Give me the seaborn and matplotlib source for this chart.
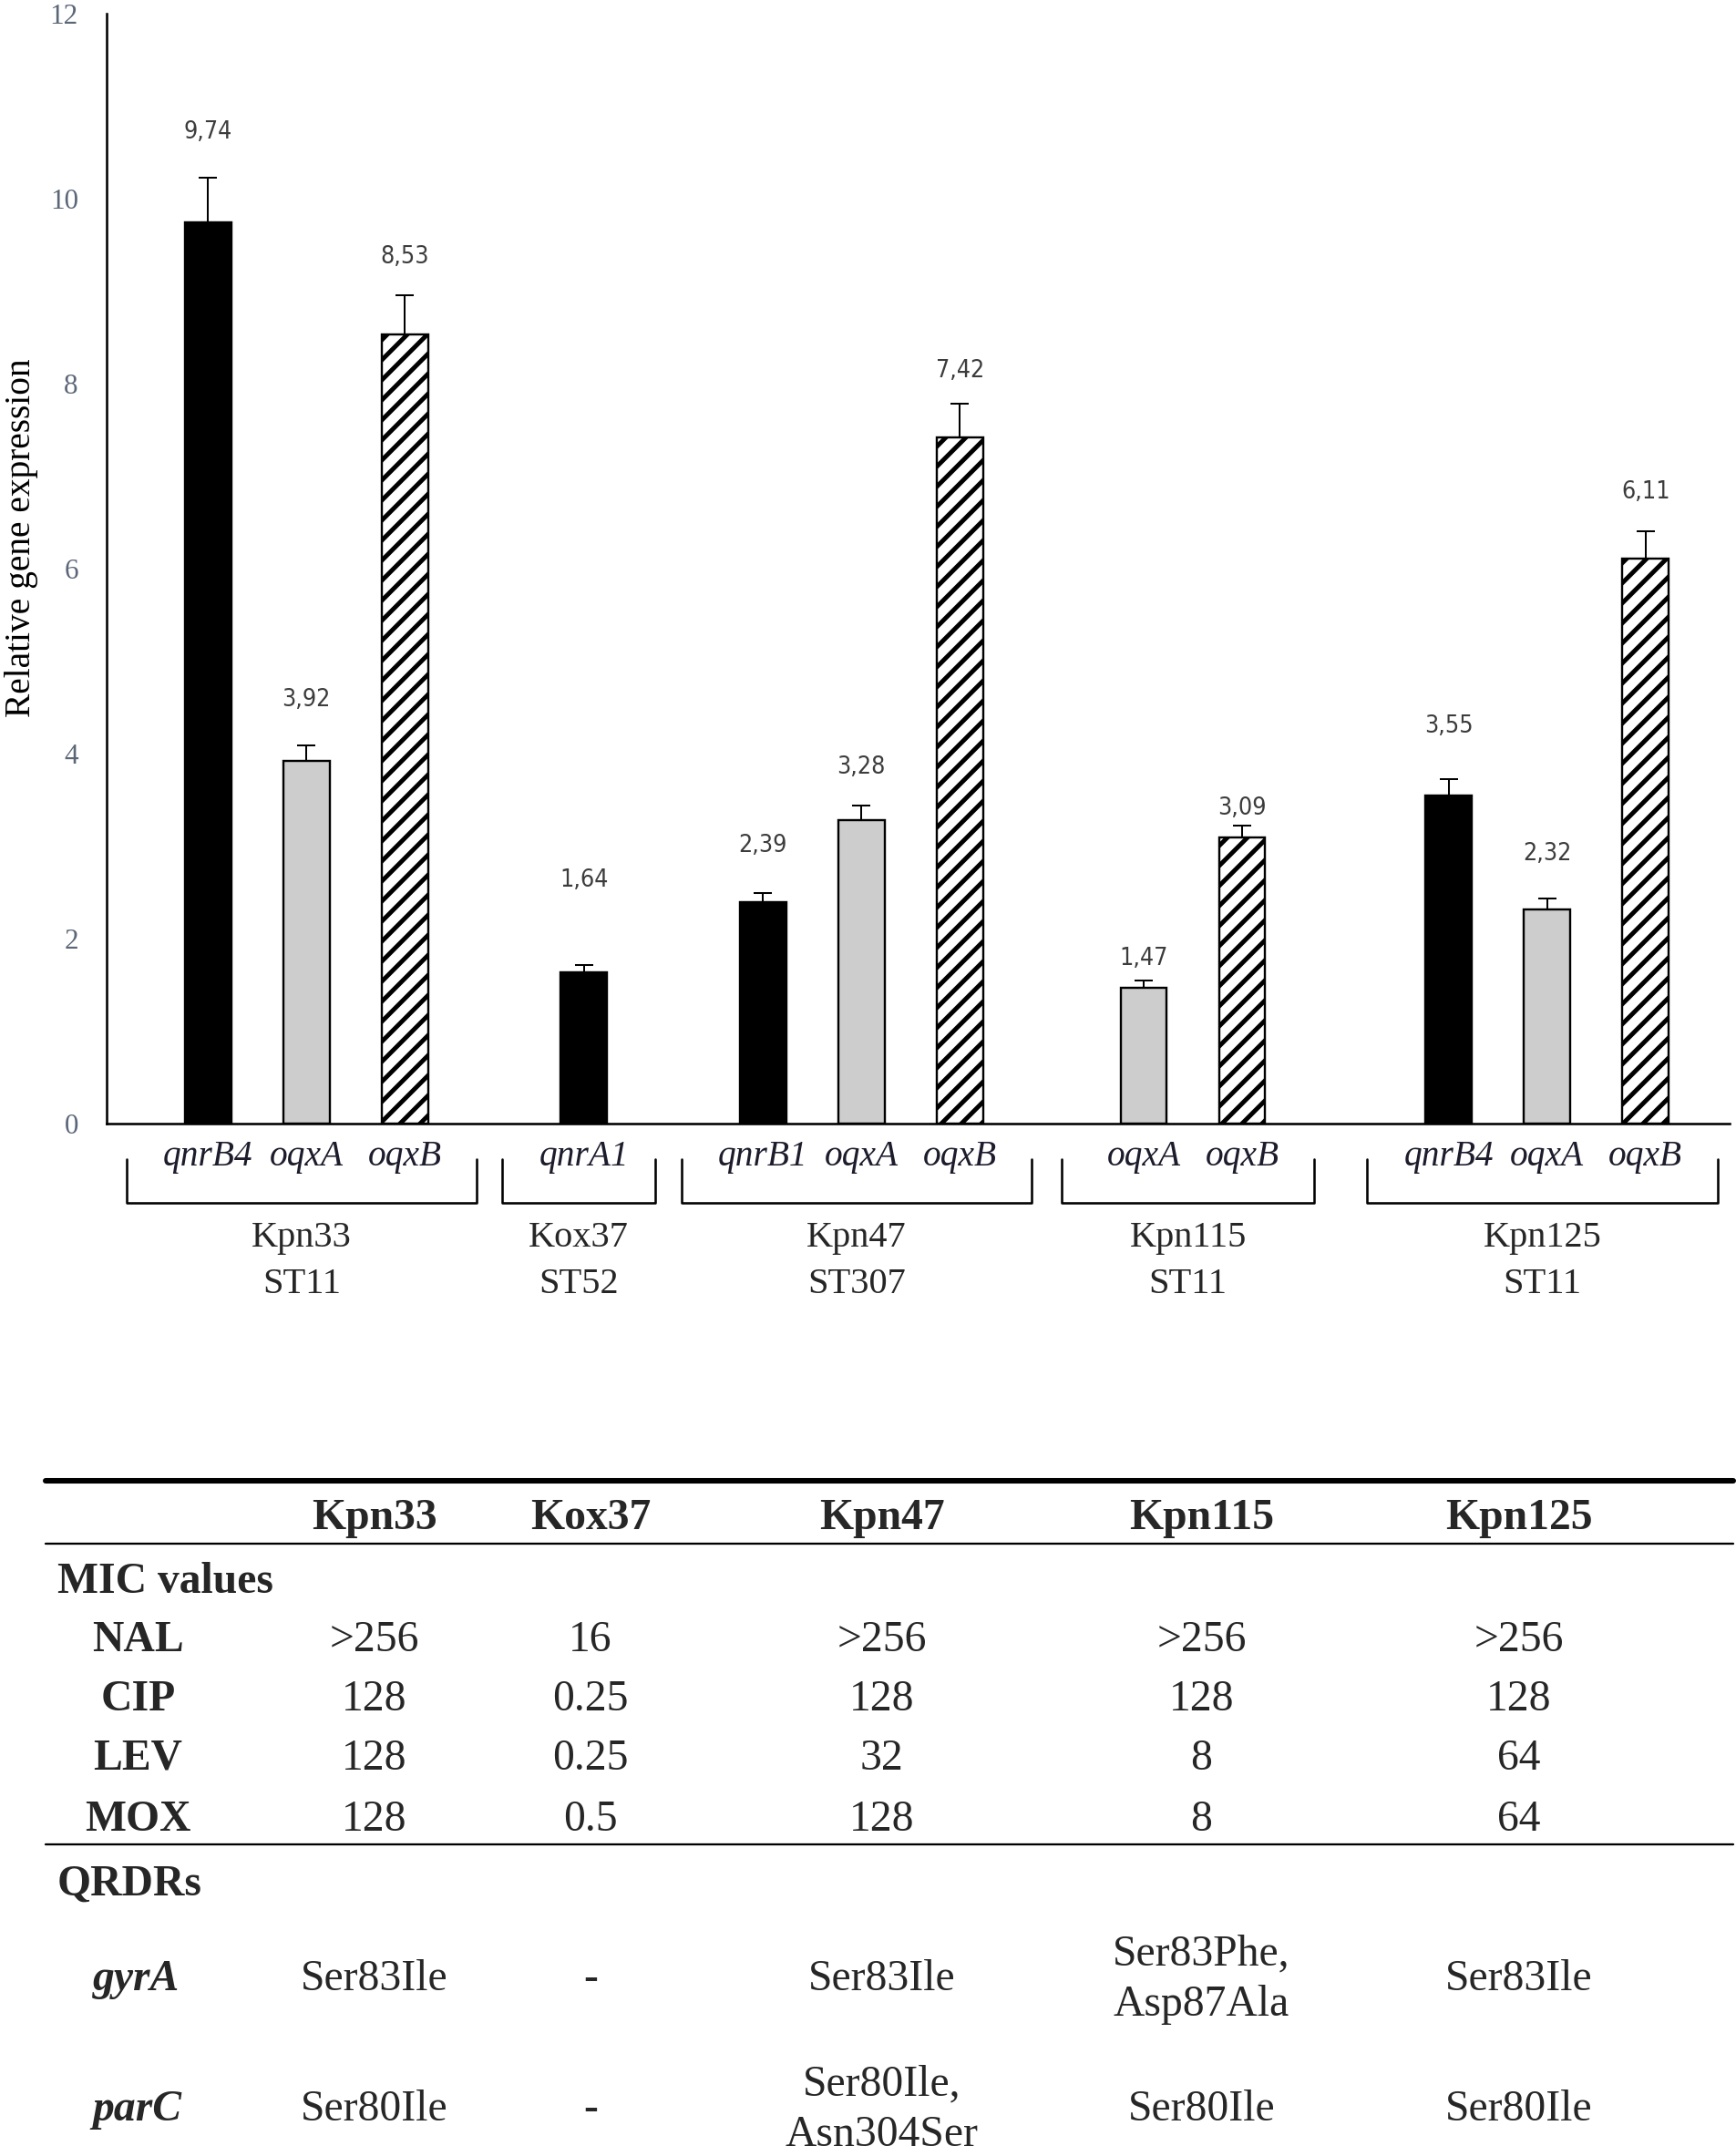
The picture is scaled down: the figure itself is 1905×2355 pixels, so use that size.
import numpy as np
import pandas as pd
import matplotlib
matplotlib.use('Agg')
import matplotlib.pyplot as plt
from matplotlib.lines import Line2D
from matplotlib.transforms import blended_transform_factory
import seaborn as sns

# ---- data ----
strains = ['Kpn33', 'Kox37', 'Kpn47', 'Kpn115', 'Kpn125']
sequence_types = ['ST11', 'ST52', 'ST307', 'ST11', 'ST11']
genes = [['qnrB4', 'oqxA', 'oqxB'], ['qnrA1'], ['qnrB1', 'oqxA', 'oqxB'],
         ['oqxA', 'oqxB'], ['qnrB4', 'oqxA', 'oqxB']]
expression = [[9.74, 3.92, 8.53], [1.64], [2.39, 3.28, 7.42], [1.47, 3.09], [3.55, 2.32, 6.11]]
errors = [[0.49, 0.17, 0.43], [0.07], [0.10, 0.16, 0.36], [0.08, 0.13], [0.17, 0.11, 0.29]]

antibiotics = ['NAL', 'CIP', 'LEV', 'MOX']
mic_nal = ['>256', '16', '>256', '>256', '>256']
mic_cip = ['128', '0.25', '128', '128', '128']
mic_lev = ['128', '0.25', '32', '8', '64']
mic_mox = ['128', '0.5', '128', '8', '64']
qrdr_genes = ['gyrA', 'parC']
gyra_mut = ['Ser83Ile', '-', 'Ser83Ile', 'Ser83Phe,\nAsp87Ala', 'Ser83Ile']
parc_mut = ['Ser80Ile', '-', 'Ser80Ile,\nAsn304Ser', 'Ser80Ile', 'Ser80Ile']

# ---- layout (measured on a 1270 x 1570 grid of the reference) ----
DPI = 132
group_centers = [2.03, 4.85, 7.67, 11.04, 14.64]
bar_step = 1.0
bar_width = 0.47
x_span = 16.49
px_per_unit = 812 / 12
label_lift = [35, 35, 30, 64, 37, 30, 26, 18, 15, 41, 35, 31]
col_x = [274, 432, 645, 879, 1111]


def fx(x):
    return x / 1270


def fy(y):
    return 1 - y / 1570


sns.set_style('white')
plt.rcParams['font.family'] = ['Liberation Serif', 'DejaVu Serif']
plt.rcParams['hatch.linewidth'] = 2.7
plt.rcParams['hatch.color'] = 'black'

rows = []
for i, (s, gs, vs, es) in enumerate(zip(strains, genes, expression, errors)):
    n = len(gs)
    for j, (g, v, e) in enumerate(zip(gs, vs, es)):
        pos = group_centers[i] + (j - (n - 1) / 2) * bar_step
        kind = 'qnr' if g.startswith('qnr') else g
        rows.append(dict(strain=s, gene=g, kind=kind, pos=pos, value=v, err=e))
df = pd.DataFrame(rows)

fig = plt.figure(figsize=(1905 / DPI, 2355 / DPI), dpi=DPI)
ax = fig.add_axes([117 / 1905, 1122 / 2355, (1897.5 - 117) / 1905, (2340 - 1122) / 2355])

sns.barplot(data=df, x='pos', y='value', hue='kind', hue_order=['qnr', 'oqxA', 'oqxB'],
            palette={'qnr': 'black', 'oqxA': '#cdcdcd', 'oqxB': 'white'},
            native_scale=True, width=bar_width, dodge=False, saturation=1,
            errorbar=None, legend=False, edgecolor='black', linewidth=1.3, ax=ax)

for p in ax.patches:
    cx = p.get_x() + p.get_width() / 2
    r = df.iloc[(df['pos'] - cx).abs().argmin()]
    if r['kind'] == 'oqxB':
        p.set_hatch('//')

ax.errorbar(df['pos'], df['value'], yerr=[np.zeros(len(df)), df['err']], fmt='none',
            ecolor='black', elinewidth=1.1, capsize=5.7, capthick=1.1, zorder=3)

for r, lift in zip(df.itertuples(), label_lift):
    ax.text(r.pos, r.value + r.err + lift / px_per_unit, f'{r.value:.2f}'.replace('.', ','),
            ha='center', va='center_baseline', fontsize=14.5, family='DejaVu Sans',
            fontstretch='condensed', color='#3c3c3c')

ax.set_xlim(0, x_span)
ax.set_ylim(0, 12)
ax.set_yticks(range(0, 13, 2))
ax.set_xticks([])
ax.set_xlabel('')
ax.set_ylabel('Relative gene expression', fontsize=21.5, color='black')
ax.yaxis.set_label_coords(-0.042, 0.528)
sns.despine(ax=ax)
for sp in ['left', 'bottom']:
    ax.spines[sp].set_linewidth(1.4)
    ax.spines[sp].set_color('black')
ax.tick_params(axis='y', length=0, pad=17, labelsize=17, labelcolor='#5b6677')

# gene names, brackets and strain labels below the axis
trans = blended_transform_factory(ax.transData, fig.transFigure)
for r in df.itertuples():
    fig.text(r.pos, fy(853), r.gene, transform=trans, ha='center', va='baseline',
             fontsize=21.5, style='italic', color='#1c1c2c')

for c, gs, s, st in zip(group_centers, genes, strains, sequence_types):
    half = len(gs) * 0.5 + 0.28
    left, right = c - 0.05 - half, c - 0.05 + half
    fig.add_artist(Line2D([left, left, right, right], [fy(848), fy(880), fy(880), fy(848)],
                          transform=trans, color='black', lw=1.4))
    fig.text(c - 0.05, fy(912), s, transform=trans, ha='center', va='baseline', fontsize=22)
    fig.text(c - 0.05, fy(946), st, transform=trans, ha='center', va='baseline', fontsize=22)

# ---- table ----
fig.add_artist(Line2D([fx(33), fx(1268)], [fy(1083)] * 2, lw=3.3, color='black'))
fig.add_artist(Line2D([fx(33), fx(1268)], [fy(1129)] * 2, lw=1.25, color='black'))
fig.add_artist(Line2D([fx(33), fx(1268)], [fy(1349)] * 2, lw=1.25, color='black'))

for x, s in zip(col_x, strains):
    fig.text(fx(x), fy(1107), s, ha='center', va='center_baseline', fontsize=26, weight='bold')

fig.text(fx(42), fy(1154), 'MIC values', ha='left', va='center_baseline', fontsize=26, weight='bold')
for abx, vals, y in zip(antibiotics, [mic_nal, mic_cip, mic_lev, mic_mox], [1197, 1240, 1283, 1328]):
    fig.text(fx(101), fy(y), abx, ha='center', va='center_baseline', fontsize=26, weight='bold')
    for x, v in zip(col_x, vals):
        fig.text(fx(x), fy(y), v, ha='center', va='center_baseline', fontsize=26)

fig.text(fx(42), fy(1375), 'QRDRs', ha='left', va='center_baseline', fontsize=26, weight='bold')
for g, vals, y in zip(qrdr_genes, [gyra_mut, parc_mut], [1445, 1540]):
    fig.text(fx(100), fy(y), g, ha='center', va='center_baseline', fontsize=26,
             weight='bold', style='italic')
    for x, v in zip(col_x, vals):
        lines = v.split('\n')
        for k, line in enumerate(lines):
            yy = y + (k - (len(lines) - 1) / 2) * 37
            fig.text(fx(x), fy(yy), line, ha='center', va='center_baseline', fontsize=26)

fig.savefig('out.png', dpi=DPI)
